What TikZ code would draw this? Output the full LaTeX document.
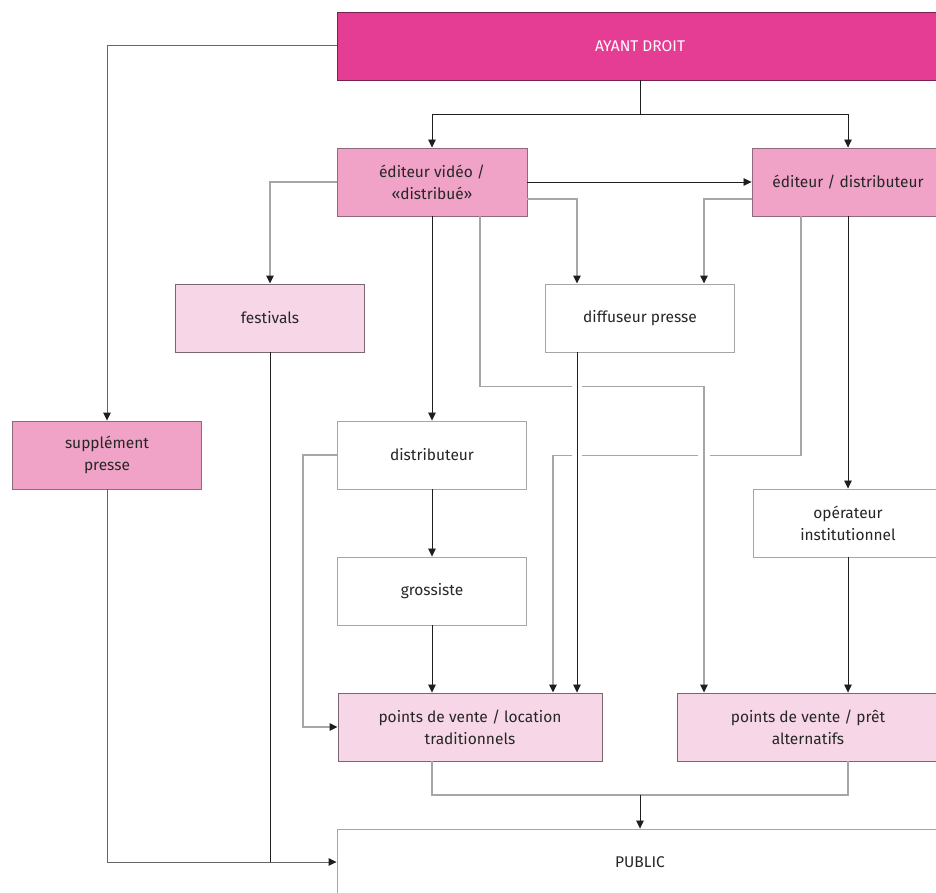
\documentclass[tikz,border=0pt]{standalone}
\usepackage{fontspec}
\setmainfont{Fira Sans}
\usetikzlibrary{arrows.meta}
\definecolor{magA}{HTML}{E53D93}
\definecolor{magAb}{HTML}{7A2050}
\definecolor{magB}{HTML}{F0A3C7}
\definecolor{magBb}{HTML}{8F6A7C}
\definecolor{magC}{HTML}{F7D7E7}
\definecolor{magCb}{HTML}{7A6670}
\definecolor{txt}{HTML}{262626}
\definecolor{lnblk}{HTML}{1E1E1E}
\definecolor{lndk}{HTML}{666666}
\definecolor{lnlt}{HTML}{A6A6A6}
\tikzset{
  box/.style={draw=lnlt, line width=0.9pt, fill=white, minimum height=68pt, align=center, text=txt, inner sep=0pt,
    font=\fontsize{15.5}{22}\selectfont},
  boxA/.style={box, fill=magA, draw=magAb, text=white},
  boxB/.style={box, fill=magB, draw=magBb},
  boxC/.style={box, fill=magC, draw=magCb},
  lblk/.style={draw=lnblk, line width=0.8pt},
  ldk/.style={draw=lndk, line width=1pt},
  llt/.style={draw=lnlt, line width=1.3pt},
  ablk/.style={lblk, -{Triangle[length=8pt,width=7.5pt,fill=lnblk]}},
  adk/.style={ldk, -{Triangle[length=8pt,width=7.5pt,fill=lnblk,color=lnblk]}},
  alt/.style={llt, -{Triangle[length=8pt,width=7.5pt,fill=lnblk,color=lnblk]}},
  gap/.style={fill=white, draw=none}
}
\begin{document}
\begin{tikzpicture}[x=1pt, y=-1pt]
\useasboundingbox (0,0) rectangle (936,893);

% nodes
\node[boxA, minimum width=606pt] (ayant) at (640,46) {AYANT DROIT};
\node[boxB, minimum width=190pt] (ev) at (432,182) {éditeur vidéo /\\«distribué»};
\node[boxB, minimum width=192pt] (ed) at (848,182) {éditeur / distributeur};
\node[boxC, minimum width=189pt] (fest) at (270,318) {festivals};
\node[box, minimum width=189pt] (diff) at (640,318) {diffuseur presse};
\node[boxB, minimum width=189pt] (supp) at (107,455) {supplément\\presse};
\node[box, minimum width=189pt] (dist) at (432,455) {distributeur};
\node[box, minimum width=190pt] (oper) at (848,523) {opérateur\\institutionnel};
\node[box, minimum width=189pt] (gross) at (432,591) {grossiste};
\node[boxC, minimum width=264pt] (pdvL) at (470,727) {points de vente / location\\traditionnels};
\node[boxC, minimum width=262pt] (pdvA) at (808,727) {points de vente / prêt\\alternatifs};
\node[box, minimum width=606pt, minimum height=66pt] (pub) at (640,862) {PUBLIC};

% junctions
\coordinate (j1) at (640,114);
\coordinate (j2) at (640,795);

% grey connectors (drawn first)
\draw[alt] (ev.west) -| (fest.north);
\draw[alt] ([yshift=-17pt]ev.east) -| ([xshift=-63pt]diff.north);
\draw[alt] ([yshift=-17pt]ed.west) -| ([xshift=64pt]diff.north);
\draw[alt] ([xshift=-47pt]ed.south) -- ++(0,239) -| ([xshift=83pt]pdvL.north);
\fill[gap] (698,450) rectangle (710,460);
\draw[alt] ([xshift=48pt]ev.south) -- ++(0,170) -| ([xshift=-104pt]pdvA.north);
\fill[gap] (572,381) rectangle (582,391);
\fill[gap] (572,450) rectangle (582,460);
\draw[alt] (dist.west) -- ++(-34,0) |- (pdvL.west);
\draw[llt] ([xshift=-38pt]pdvL.south) |- (j2) -| ([xshift=40pt]pdvA.south);

% dark grey connectors
\draw[adk] (ayant.west) -| (supp.north);
\draw[adk] (supp.south) |- (pub.west);

% black connectors
\draw[lblk] (ayant.south) -- (j1);
\draw[ablk] (j1) -| (ev.north);
\draw[ablk] (j1) -| (ed.north);
\draw[ablk] (ev.east) -- (ed.west);
\draw[ablk] (ev.south) -- (dist.north);
\draw[ablk] ([xshift=-63pt]diff.south) -- ([xshift=107pt]pdvL.north);
\draw[ablk] (ed.south) -- (oper.north);
\draw[ablk] (dist.south) -- (gross.north);
\draw[ablk] (gross.south) -- ([xshift=-38pt]pdvL.north);
\draw[ablk] (oper.south) -- ([xshift=40pt]pdvA.north);
\draw[ablk] (j2) -- (pub.north);
\draw[lblk] (fest.south) -- (fest.south |- pub.west);
\end{tikzpicture}
\end{document}
